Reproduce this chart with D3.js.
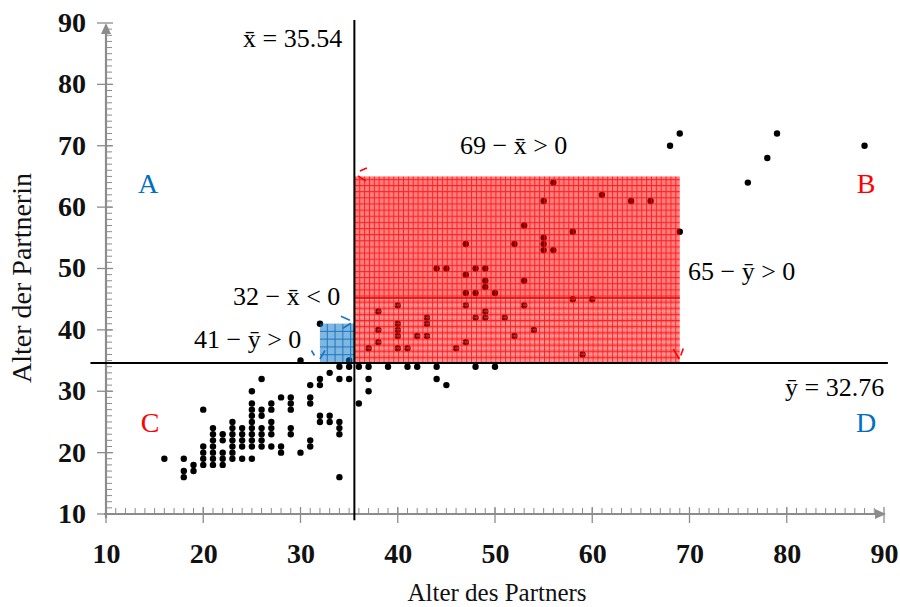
<!DOCTYPE html>
<html><head><meta charset="utf-8">
<script src="https://cdn.jsdelivr.net/npm/d3@7"></script>
<style>body{margin:0;background:#fff} svg{display:block}</style>
</head><body>
<svg id="c" width="900" height="607"></svg>
<script>
// ---- data ----
const partnerAge = [
 16, 18,18,18, 19,19, 20,20,20,20,20, 21,21,21,21,21,21,21, 22,22,22,22,22,
 23,23,23,23,23,23,23, 24,24,24,24,24, 25,25,25,25,25,25,25,25,25,25,
 26,26,26,26,26,26,26, 27,27,27,27,27,27, 28,28,28, 29,29,29,29,29, 30,30,
 31,31,31,31,31, 32,32,32,32, 33,33,33, 34,34,34,34,34,34, 35,35,
 32,35,
 36,37,39,41,42,44,48,50,37,44,37,36,45,
 37,38,38,38,40,40,40,40,40,41,42,43,43,43,44,45,46,47,47,47,47,47,48,48,48,
 49,49,49,49,49,50,51,52,52,53,53,53,54,55,55,55,55,56,56,58,58,59,60,61,64,66,69,
 68,69,76,78,79,88];
const partnerinAge = [
 19, 19,17,16, 18,17, 27,21,20,19,18, 24,23,22,21,20,19,18, 23,22,20,19,18,
 25,24,23,22,21,20,19, 24,23,22,21,19, 30,28,27,26,25,24,23,22,21,19,
 32,27,26,24,23,22,21, 28,27,25,24,23,21, 29,21,20, 29,28,27,24,23, 35,20,
 31,29,28,22,21, 32,31,26,25, 33,26,25, 34,32,25,24,23,16, 34,32,
 41,35,
 34,34,34,34,34,34,34,34,32,32,30,28,31,
 37,43,40,38,44,41,40,39,37,37,39,42,41,39,50,50,37,54,49,46,44,38,50,46,42,
 50,48,47,43,42,46,42,54,39,57,48,44,40,61,55,54,53,64,53,56,45,36,45,62,61,61,56,
 70,72,64,68,72,70];
const xTicks = [10,20,30,40,50,60,70,80,90];
const yTicks = [10,20,30,40,50,60,70,80,90];
const xMean = 35.54;
const yMean = 32.76;
const yMeanDrawn = 34.6;          // height at which the figure draws the y-mean line
const blueCorner = [32, 41];      // point (32|41)
const redCorner = [69, 65];       // point (69|65)
const redSplit = 45.2;            // darker line inside the red rectangle
const meanLineSpanX = [8.4, 90.4];
const meanLineSpanY = [9.0, 90.5];
const xTitle = "Alter des Partners";
const yTitle = "Alter der Partnerin";

// ---- drawing ----
const svg = d3.select('#c');
const x = d3.scaleLinear().domain([10, 90]).range([106, 884]);
const y = d3.scaleLinear().domain([10, 90]).range([514, 23]);
const serif = "'Liberation Serif','Times New Roman',serif";
const axisCol = '#8c8c8c';

const defs = svg.append('defs');
const cw = (x(11)-x(10))/2, ch = y(10)-y(11);
// red grid pattern
const rx0 = x(xMean), rx1 = x(redCorner[0]), ry0 = y(redCorner[1]), ry1 = y(yMeanDrawn);
const pr = defs.append('pattern').attr('id','pr').attr('patternUnits','userSpaceOnUse')
  .attr('width', cw).attr('height', ch).attr('x', rx0).attr('y', ry1);
pr.append('rect').attr('width', cw).attr('height', ch).attr('fill','rgba(255,0,0,0.5)');
pr.append('path').attr('d', `M0.5,0V${ch}M0,0.5H${cw}`).attr('stroke','rgba(255,0,0,0.75)').attr('stroke-width',1).attr('fill','none');
// white dotted pattern for lower band
const pw = defs.append('pattern').attr('id','pw').attr('patternUnits','userSpaceOnUse')
  .attr('width', 2.43).attr('height', ch).attr('x', rx0).attr('y', ry1);
pw.append('rect').attr('x',1.2).attr('y',ch/2).attr('width',0.9).attr('height',0.9).attr('fill','rgba(255,255,255,0.85)');
// blue grid pattern
const bx0 = x(blueCorner[0]), bx1 = x(xMean), by0 = y(blueCorner[1]), by1 = y(yMeanDrawn);
const pb = defs.append('pattern').attr('id','pb').attr('patternUnits','userSpaceOnUse')
  .attr('width', 7.8).attr('height', 7.8).attr('x', bx0).attr('y', by1);
pb.append('rect').attr('width',7.8).attr('height',7.8).attr('fill','rgba(0,112,192,0.5)');
pb.append('path').attr('d','M7.3,0V7.8M0,7.3H7.8').attr('stroke','#1a74c4').attr('stroke-width',1).attr('fill','none');

// axes (gray)
const ax = svg.append('g').attr('stroke', axisCol).attr('fill','none');
const minorX = d3.range(11, 90);
const minorY = d3.range(11, 90);
ax.append('line').attr('x1', x(10)-2).attr('x2', x(90)-6).attr('y1', y(10)).attr('y2', y(10)).attr('stroke-width',2.2);
ax.append('line').attr('x1', x(10)).attr('x2', x(10)).attr('y1', y(10)+4).attr('y2', y(90)+8).attr('stroke-width',2.2);
ax.selectAll('.mx').data(minorX).join('line').attr('x1', d=>x(d)).attr('x2', d=>x(d)).attr('y1', y(10)-6).attr('y2', y(10)).attr('stroke-width',1);
ax.selectAll('.Mx').data(xTicks).join('line').attr('x1', d=>x(d)).attr('x2', d=>x(d)).attr('y1', y(10)-7).attr('y2', y(10)+9).attr('stroke-width',1.3);
ax.selectAll('.my').data(minorY).join('line').attr('y1', d=>y(d)).attr('y2', d=>y(d)).attr('x1', x(10)).attr('x2', x(10)+6).attr('stroke-width',1);
ax.selectAll('.My').data(yTicks).join('line').attr('y1', d=>y(d)).attr('y2', d=>y(d)).attr('x1', x(10)-9).attr('x2', x(10)+7).attr('stroke-width',1.3);
svg.append('path').attr('d', `M${x(90)+2},${y(10)}L${x(90)-9},${y(10)-5}L${x(90)-9},${y(10)+5}Z`).attr('fill', axisCol);
svg.append('path').attr('d', `M${x(10)},${y(90)}L${x(10)-5},${y(90)+11}L${x(10)+5},${y(90)+11}Z`).attr('fill', axisCol);

// tick labels via d3 axes
const gx = svg.append('g').attr('transform', `translate(0,${y(10)})`)
  .call(d3.axisBottom(x).tickValues(xTicks).tickSize(0).tickFormat(d3.format('d')));
gx.select('.domain').remove();
gx.selectAll('text').attr('y', 49).attr('dy', 0).attr('font-family', serif).attr('font-weight','bold').attr('font-size', 28).attr('fill','#111');
const gy = svg.append('g').attr('transform', `translate(${x(10)},0)`)
  .call(d3.axisLeft(y).tickValues(yTicks).tickSize(0).tickPadding(20).tickFormat(d3.format('d')));
gy.select('.domain').remove();
gy.selectAll('text').attr('dy', '0.3em').attr('font-family', serif).attr('font-weight','bold').attr('font-size', 28).attr('fill','#111');

// points
const pts = partnerAge.map((a, i) => [a, partnerinAge[i]]);
svg.append('g').selectAll('circle').data(pts).join('circle')
  .attr('cx', d => x(d[0])).attr('cy', d => y(d[1])).attr('r', 3.2).attr('fill', '#000');

// rectangles (over points, translucent)
svg.append('rect').attr('x', rx0).attr('y', ry0).attr('width', rx1-rx0).attr('height', ry1-ry0).attr('fill','url(#pr)');
svg.append('rect').attr('x', rx0).attr('y', y(redSplit)).attr('width', rx1-rx0).attr('height', ry1-y(redSplit)).attr('fill','url(#pw)');
svg.append('line').attr('x1', rx0).attr('x2', rx1).attr('y1', y(redSplit)).attr('y2', y(redSplit)).attr('stroke','#e00000').attr('stroke-width',1.6);
svg.append('rect').attr('x', bx0).attr('y', by0).attr('width', bx1-bx0).attr('height', by1-by0).attr('fill','url(#pb)');

// corner handle marks
const marks = svg.append('g').attr('fill','none').attr('stroke-width',1.6);
const mk = (cx, cy, segs, col) => segs.forEach(s => marks.append('line')
  .attr('x1', cx+s[0]).attr('y1', cy+s[1]).attr('x2', cx+s[2]).attr('y2', cy+s[3]).attr('stroke', col));
mk(rx0, ry0, [[5.5,-5.5,12.5,-8.5],[3.5,-0.5,11.5,4.5]], '#ff0000');
mk(rx1, ry1, [[-6.5,-14,-0.5,-4],[3.5,-14.5,1,-7.5]], '#ff0000');
mk(bx1, by0, [[-13.5,-7.5,-4.5,-3.5],[-11.5,4.5,-3.5,-0.5]], '#1a74c4');
mk(bx0, by1, [[-8.5,-12.5,-5.5,-7.5],[0,-4,5,-12.5]], '#1a74c4');

// mean lines
svg.append('line').attr('x1', x(xMean)).attr('x2', x(xMean)).attr('y1', y(meanLineSpanY[1])).attr('y2', y(meanLineSpanY[0])).attr('stroke','#000').attr('stroke-width',2);
svg.append('line').attr('x1', x(meanLineSpanX[0])).attr('x2', x(meanLineSpanX[1])).attr('y1', y(yMeanDrawn)).attr('y2', y(yMeanDrawn)).attr('stroke','#000').attr('stroke-width',2);

// annotation texts
const xb = 'x\u0304', yb = 'y\u0304';
const ann = [
  [`${xb} = ${xMean.toFixed(2)}`, 243, 47],
  [`${redCorner[0]} \u2212 ${xb} > 0`, 460, 154],
  [`${redCorner[1]} \u2212 ${yb} > 0`, 688, 280],
  [`${blueCorner[0]} \u2212 ${xb} < 0`, 233, 305],
  [`${blueCorner[1]} \u2212 ${yb} > 0`, 194, 348],
  [`${yb} = ${yMean.toFixed(2)}`, 785, 396]
];
svg.append('g').selectAll('text').data(ann).join('text')
  .attr('x', d => d[1]).attr('y', d => d[2]).text(d => d[0])
  .attr('font-family', serif).attr('font-size', 26).attr('fill', '#000');

// quadrant letters
const quad = [['A', 148, '#0070c0', 193], ['B', 866, '#ff0000', 193], ['C', 150, '#ff0000', 432], ['D', 866, '#0070c0', 432]];
svg.append('g').selectAll('text').data(quad).join('text')
  .attr('x', d => d[1]).attr('y', d => d[3]).attr('text-anchor','middle').text(d => d[0])
  .attr('font-family', serif).attr('font-size', 28).attr('fill', d => d[2]);

// axis titles
svg.append('text').attr('x', 497).attr('y', 601).attr('text-anchor','middle').text(xTitle)
  .attr('font-family', serif).attr('font-size', 25).attr('fill','#111');
svg.append('text').attr('transform','translate(31,278) rotate(-90)').attr('text-anchor','middle').text(yTitle)
  .attr('font-family', serif).attr('font-size', 28).attr('fill','#111');
</script>
</body></html>
